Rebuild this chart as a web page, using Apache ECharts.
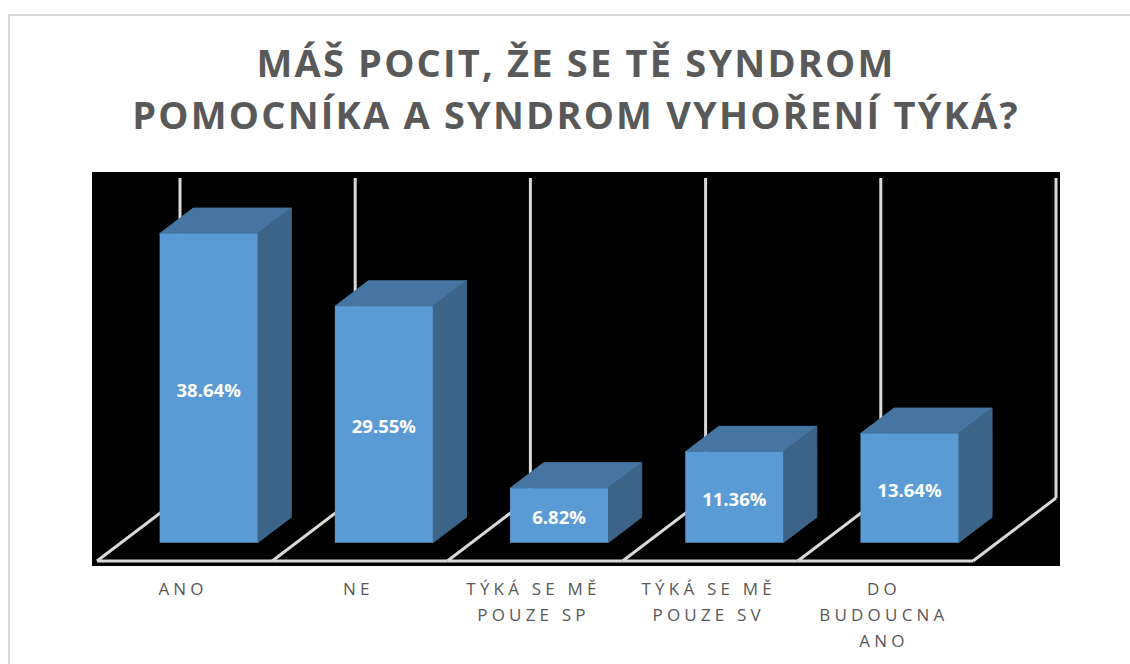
<!DOCTYPE html>
<html><head><meta charset="utf-8">
<style>
html,body{margin:0;padding:0;background:#fff}
#c{width:1130px;height:664px}
#c text[style*="38px"]{letter-spacing:2.2px}
#c text[style*="17px"]{letter-spacing:4.2px}
</style>
<script src="https://cdn.jsdelivr.net/npm/echarts@6/dist/echarts.min.js"></script>
</head><body><div id="c"></div>
<script>
const titleText = 'MÁŠ POCIT, ŽE SE TĚ SYNDROM\nPOMOCNÍKA A SYNDROM VYHOŘENÍ TÝKÁ?';
const categories = ['ANO','NE','TÝKÁ SE MĚ\nPOUZE SP','TÝKÁ SE MĚ\nPOUZE SV','DO\nBUDOUCNA\nANO'];
const values = [38.64,29.55,6.82,11.36,13.64];

const GRID = {left:97, top:241, width:876, height:320};
const DEPTH = {dx:83, dy:-63};
const BAR = {from:0.29, to:0.695, width:98};
const LINE = '#d9d9d9';

const chart = echarts.init(document.getElementById('c'), null, {renderer:'svg'});

function frameItem(params, api){
  const base = api.coord([api.value(0), 0]);
  const top = api.coord([api.value(0), 40]);
  const band = api.size([1,0])[0];
  const x0 = base[0]-band/2;
  const lineStyle = {stroke:LINE, lineWidth:3, fill:null};
  const children = [];
  const addAt = x => {
    children.push({type:'line',shape:{x1:x,y1:base[1],x2:x+DEPTH.dx,y2:base[1]+DEPTH.dy},style:lineStyle});
    children.push({type:'line',shape:{x1:x+DEPTH.dx,y1:base[1]+DEPTH.dy,x2:x+DEPTH.dx,y2:top[1]+DEPTH.dy},style:lineStyle});
  };
  addAt(x0);
  if(params.dataIndex===categories.length-1) addAt(x0+band);
  children.push({type:'line',shape:{x1:x0,y1:base[1],x2:x0+band,y2:base[1]},style:lineStyle});
  return {type:'group',children};
}

function barItem(params, api){
  const v = api.value(1);
  const base = api.coord([api.value(0), 0]);
  const top = api.coord([api.value(0), v]);
  const fx = DEPTH.dx*BAR.from, fy = DEPTH.dy*BAR.from;
  const bx = DEPTH.dx*(BAR.to-BAR.from), by = DEPTH.dy*(BAR.to-BAR.from);
  const l = base[0]+fx-BAR.width/2, r = l+BAR.width;
  const yb = base[1]+fy, yt = top[1]+fy;
  return {type:'group',children:[
    {type:'polygon',shape:{points:[[l,yt],[r,yt],[r+bx,yt+by],[l+bx,yt+by]]},style:{fill:'#4675a1',stroke:'#4675a1',lineWidth:1}},
    {type:'polygon',shape:{points:[[r,yt],[r+bx,yt+by],[r+bx,yb+by],[r,yb]]},style:{fill:'#3b6488',stroke:'#3b6488',lineWidth:1}},
    {type:'rect',shape:{x:l,y:yt,width:BAR.width,height:yb-yt},style:{fill:'#5b9bd5'}},
    {type:'text',x:l+BAR.width/2,y:(yt+yb)/2+1,style:{text:v.toFixed(2)+'%',fill:'#fff',align:'center',verticalAlign:'middle',font:'700 18.5px "Open Sans"'}}
  ]};
}

chart.setOption({
  animation:false,
  backgroundColor:'#fff',
  title:{text:titleText,left:571,top:31,textAlign:'center',
    textStyle:{fontFamily:'"Open Sans"',fontWeight:700,fontSize:38,lineHeight:52,color:'#595959'}},
  graphic:[
    {type:'rect',z:-10,shape:{x:9,y:15,width:1130,height:670},style:{fill:'#fff',stroke:'#d9d9d9',lineWidth:2}},
    {type:'rect',z:-9,shape:{x:92,y:172,width:968,height:394},style:{fill:'#000'}}
  ],
  grid:GRID,
  xAxis:{type:'category',data:categories,
    axisLine:{show:false},axisTick:{show:false},
    axisLabel:{interval:0,margin:14,padding:[0,3,0,0],fontFamily:'"Open Sans"',fontSize:17,lineHeight:26,color:'#595959',align:'center',verticalAlign:'top'}},
  yAxis:{type:'value',min:0,max:40,show:false},
  series:[
    {type:'custom',coordinateSystem:'cartesian2d',data:categories.map((c,i)=>[i,0]),renderItem:frameItem,silent:true,z:1},
    {type:'custom',coordinateSystem:'cartesian2d',data:values.map((v,i)=>[i,v]),renderItem:barItem,silent:true,z:2}
  ]
});
</script></body></html>
